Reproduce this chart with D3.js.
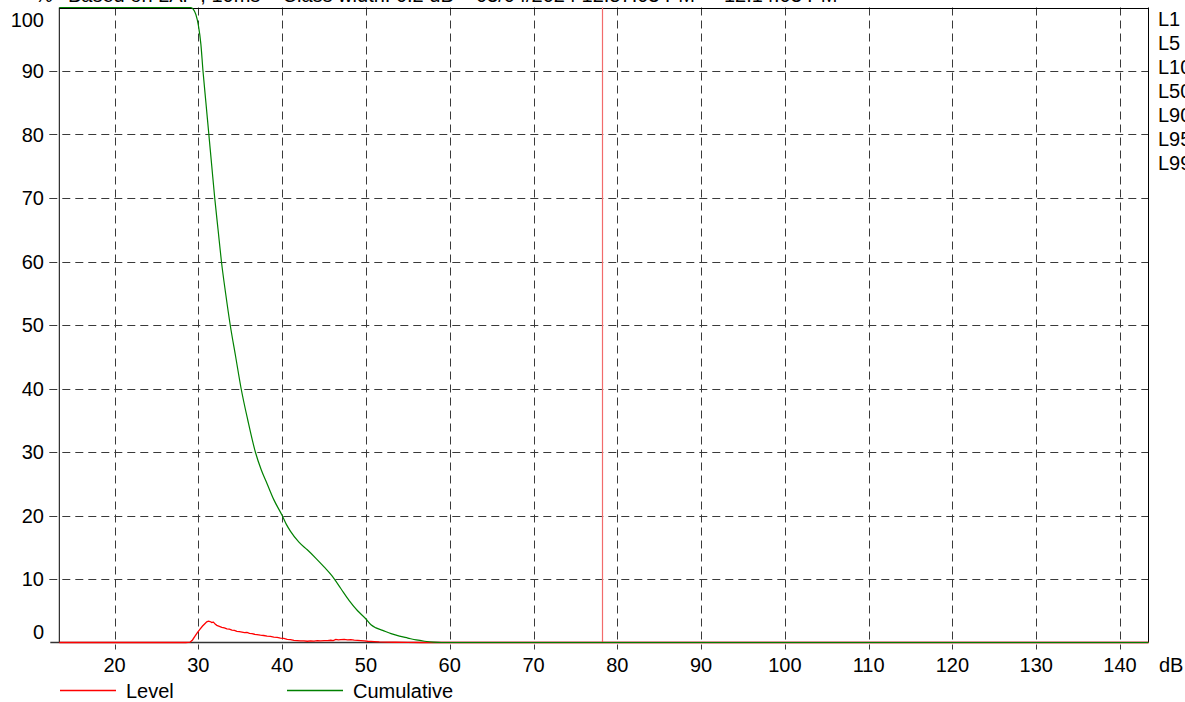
<!DOCTYPE html>
<html>
<head>
<meta charset="utf-8">
<script src="https://cdn.jsdelivr.net/npm/d3@7"></script>
<style>
  html, body { margin: 0; padding: 0; background: #fff; overflow: hidden; }
  svg { display: block; font-family: "Liberation Sans", Arial, sans-serif; }
  text { white-space: pre; }
</style>
</head>
<body>
<svg id="chart" width="1185" height="702"></svg>
<script>
// ---- data ----
const xTicks = [20, 30, 40, 50, 60, 70, 80, 90, 100, 110, 120, 130, 140];
const yTicks = [0, 10, 20, 30, 40, 50, 60, 70, 80, 90, 100];
const xDomain = [13.4, 143.4];
const cursorDb = 78.2;

const levelDb  = [13.4, 28.5, 29.0, 29.3, 29.6, 29.9, 30.2, 30.5, 30.8, 31.0, 31.2, 31.4, 31.6, 31.8, 32.0, 32.2, 32.5, 32.8, 33.1, 33.4, 33.7, 34.0, 34.3, 34.6, 34.9, 35.2, 35.5, 35.8, 36.1, 36.4, 36.7, 37.0, 37.4, 37.8, 38.2, 38.6, 39.0, 39.4, 39.8, 40.2, 40.6, 41.0, 41.4, 41.8, 42.2, 42.6, 43.0, 43.4, 43.8, 44.2, 44.6, 45.0, 45.4, 45.8, 46.1, 46.4, 46.7, 47.0, 47.4, 47.8, 48.2, 48.6, 49.0, 49.4, 49.8, 50.2, 50.6, 51.0, 51.6, 52.4, 53.5, 55.0, 56.5, 143.4];
const levelPct = [0, 0, 0.05, 0.4, 1.0, 1.6, 2.1, 2.6, 3.0, 3.25, 3.35, 3.3, 3.15, 3.2, 2.9, 2.7, 2.55, 2.4, 2.3, 2.15, 2.1, 1.95, 1.9, 1.75, 1.7, 1.65, 1.55, 1.6, 1.45, 1.4, 1.3, 1.25, 1.15, 1.1, 1.0, 0.95, 0.85, 0.8, 0.7, 0.65, 0.5, 0.45, 0.35, 0.3, 0.25, 0.25, 0.2, 0.25, 0.22, 0.28, 0.25, 0.3, 0.3, 0.35, 0.3, 0.5, 0.4, 0.45, 0.48, 0.42, 0.45, 0.38, 0.35, 0.3, 0.25, 0.2, 0.18, 0.15, 0.1, 0.07, 0.04, 0.02, 0, 0];

const cumDb  = [13.4, 29.1, 29.4, 29.7, 30.0, 30.3, 30.55, 30.9, 31.25, 31.6, 31.95, 32.35, 32.75, 33.25, 33.8, 34.45, 35.1, 35.9, 36.8, 37.5, 38.2, 39.0, 40.0, 40.5, 41.0, 42.0, 43.0, 44.0, 45.0, 46.0, 47.0, 48.0, 49.0, 50.0, 50.6, 51.2, 52.0, 53.0, 54.0, 55.0, 56.0, 57.0, 58.0, 59.0, 143.4];
const cumPct = [100, 100, 99.7, 98.9, 97.2, 94.2, 90, 85, 80, 75, 70, 65, 60, 55, 50, 45, 40, 35, 30, 27.2, 25, 22.5, 20, 18.6, 17.5, 15.8, 14.6, 13.3, 11.9, 10.4, 8.5, 6.6, 5.0, 3.7, 2.8, 2.3, 1.9, 1.4, 1.0, 0.7, 0.4, 0.2, 0.06, 0, 0];

const rightLabels = ["L1", "L5", "L10", "L50", "L90", "L95", "L99"];
const titleText = "Based on LAF ; 10ms    Class width: 0.2 dB    03/04/2024 12:57:03 PM  -  12:14:03 PM";

// ---- layout ----
const L = 59.3, R = 1148.5, T = 7.5, B = 642.5;
const svg = d3.select("#chart");
const x = d3.scaleLinear().domain(xDomain).range([L, R]);
const y = d3.scaleLinear().domain([0, 100]).range([B, T]);
const fs = 20;

// title (clipped at top)
svg.append("text").attr("x", 35).attr("y", 1.5).attr("font-size", fs).text("%");
svg.append("text").attr("x", 68).attr("y", 1.5).attr("font-size", fs).text(titleText);

// grid
const gridColor = "#3a3a3a";
svg.append("g").selectAll("line").data(yTicks.filter(d => d > 0 && d < 100)).join("line")
  .attr("x1", L - 10).attr("x2", R).attr("y1", d => Math.round(y(d)) + 0.5).attr("y2", d => Math.round(y(d)) + 0.5)
  .attr("stroke", gridColor).attr("stroke-width", 1).attr("stroke-dasharray", "8,5");
svg.append("g").selectAll("line").data(xTicks).join("line")
  .attr("x1", d => Math.round(x(d)) + 0.5).attr("x2", d => Math.round(x(d)) + 0.5)
  .attr("y1", T).attr("y2", B + 7)
  .attr("stroke", gridColor).attr("stroke-width", 1).attr("stroke-dasharray", "8,5");

// frame
svg.append("line").attr("x1", L).attr("x2", L).attr("y1", T).attr("y2", B).attr("stroke", "#000");
svg.append("line").attr("x1", L).attr("x2", R).attr("y1", Math.round(T) + 0.5).attr("y2", Math.round(T) + 0.5).attr("stroke", "#000");
svg.append("line").attr("x1", R).attr("x2", R).attr("y1", T).attr("y2", B).attr("stroke", "#000");
svg.append("line").attr("x1", L - 9).attr("x2", R).attr("y1", B).attr("y2", B).attr("stroke", "#333").attr("stroke-width", 1.5);

// y tick labels
svg.append("g").selectAll("text").data(yTicks).join("text")
  .attr("x", 44).attr("text-anchor", "end").attr("font-size", fs)
  .attr("y", d => d === 100 ? y(d) + 12 : (d === 0 ? y(d) - 11 : y(d)))
  .attr("dy", "0.35em")
  .text(d => d);

// x tick labels
svg.append("g").selectAll("text").data(xTicks).join("text")
  .attr("x", d => x(d)).attr("y", 665).attr("dy", "0.35em")
  .attr("text-anchor", "middle").attr("font-size", fs)
  .text(d => d);
svg.append("text").attr("x", 1159).attr("y", 665).attr("dy", "0.35em").attr("font-size", fs).text("dB");

// cursor line
svg.append("line").attr("x1", Math.round(x(cursorDb)) + 0.5).attr("x2", Math.round(x(cursorDb)) + 0.5)
  .attr("y1", T).attr("y2", B).attr("stroke", "#f26b6b").attr("stroke-width", 1.2);

// curves
const levelData = levelDb.map((d, i) => [d, levelPct[i]]);
const cumData = cumDb.map((d, i) => [d, cumPct[i]]);
svg.append("path").datum(levelData)
  .attr("d", d3.line().x(d => x(d[0])).y(d => y(d[1])))
  .attr("fill", "none").attr("stroke", "#ff0000").attr("stroke-width", 1.3);
svg.append("path").datum(cumData)
  .attr("d", d3.line().x(d => x(d[0])).y(d => y(d[1])).curve(d3.curveMonotoneX))
  .attr("fill", "none").attr("stroke", "#008000").attr("stroke-width", 1.2);

// right labels
svg.append("g").selectAll("text").data(rightLabels).join("text")
  .attr("x", 1158).attr("y", (d, i) => 19 + i * 24).attr("dy", "0.35em")
  .attr("font-size", fs).text(d => d);

// bottom legend
const leg = [{name: "Level", color: "#ff0000", x0: 60}, {name: "Cumulative", color: "#008000", x0: 287}];
const lg = svg.append("g").selectAll("g").data(leg).join("g");
lg.append("line").attr("x1", d => d.x0).attr("x2", d => d.x0 + 56).attr("y1", 690.5).attr("y2", 690.5)
  .attr("stroke", d => d.color).attr("stroke-width", 1.3);
lg.append("text").attr("x", d => d.x0 + 66).attr("y", 691).attr("dy", "0.35em").attr("font-size", fs).text(d => d.name);
</script>
</body>
</html>
